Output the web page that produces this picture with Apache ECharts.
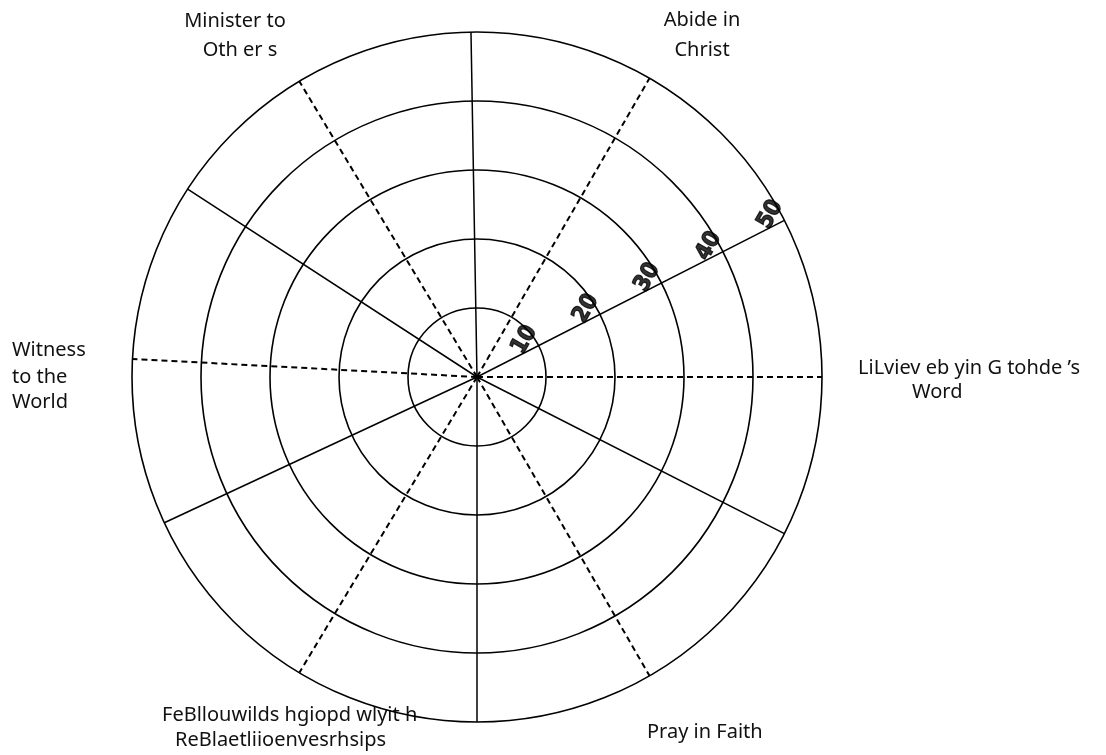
<!DOCTYPE html>
<html>
<head>
<meta charset="utf-8">
<script src="https://cdn.jsdelivr.net/npm/echarts@6/dist/echarts.min.js"></script>
<style>
  html, body { margin: 0; padding: 0; background: #fff; }
  #chart { width: 1106px; height: 755px; }
</style>
</head>
<body>
<div id="chart"></div>
<script>
// ring values along the radius (0..50)
const ringTicks = [10, 20, 30, 40, 50]
// spoke directions, degrees counter-clockwise from 3 o'clock
const solidSpokes = [27, 91, 147, 205, 270, 333]
const dashedSpokes = [0, 60, 121, 177, 239, 300]
// the scale is written along this spoke
const scaleSpoke = 27

// outer labels, as they appear in the picture
const labelLines = [
  { text: 'Minister to', x: 235, y: 21, align: 'center' },
  { text: 'Oth er s', x: 240, y: 50, align: 'center' },
  { text: 'Abide in', x: 702, y: 20, align: 'center' },
  { text: 'Christ', x: 702, y: 50, align: 'center' },
  { text: 'Witness', x: 12, y: 350, align: 'left' },
  { text: 'to the', x: 12, y: 377, align: 'left' },
  { text: 'World', x: 12, y: 402, align: 'left' },
  { text: 'LiLviev eb yin G tohde \u2019s', x: 858, y: 368, align: 'left' },
  { text: 'Word', x: 912, y: 392, align: 'left' },
  { text: 'FeBllouwilds hgiopd wlyit h', x: 162, y: 715, align: 'left' },
  { text: 'ReBlaetliioenvesrhsips', x: 175, y: 740, align: 'left' },
  { text: 'Pray in Faith', x: 647, y: 732, align: 'left' }
]

const spokeSeries = (angles, dashed) => angles.map(a => ({
  type: 'line',
  coordinateSystem: 'polar',
  data: [[0, a], [50, a]],
  symbol: 'none',
  silent: true,
  animation: false,
  lineStyle: {
    color: '#000',
    width: dashed ? 2 : 1.5,
    type: dashed ? [6, 4] : 'solid'
  }
}))

const chart = echarts.init(document.getElementById('chart'))
chart.setOption({
  backgroundColor: '#fff',
  animation: false,
  polar: { center: [477, 377], radius: 345 },
  angleAxis: {
    type: 'value',
    min: 0,
    max: 360,
    startAngle: 0,
    clockwise: false,
    axisLine: { show: false },
    axisTick: { show: false },
    axisLabel: { show: false },
    splitLine: { show: false }
  },
  radiusAxis: {
    type: 'value',
    min: 0,
    max: 50,
    interval: 10,
    axisLine: { show: false },
    axisTick: { show: false },
    axisLabel: { show: false },
    splitLine: { show: true, lineStyle: { color: '#000', width: 1.6 } }
  },
  series: [
    ...spokeSeries(solidSpokes, false),
    ...spokeSeries(dashedSpokes, true),
    {
      type: 'scatter',
      coordinateSystem: 'polar',
      symbolSize: 0,
      silent: true,
      data: ringTicks.map(v => [v, scaleSpoke]),
      label: {
        show: true,
        position: 'inside',
        // offset is in the label's rotated frame
        offset: [-2, -15],
        rotate: 60,
        formatter: p => String(p.value[0]),
        color: '#000',
        textBorderColor: '#000',
        textBorderWidth: 1.2,
        fontSize: 23,
        fontWeight: 'bold',
        fontFamily: "'DejaVu Sans Condensed', 'Liberation Sans Narrow', sans-serif"
      }
    }
  ],
  graphic: labelLines.map(l => ({
    type: 'text',
    x: l.x,
    y: l.y,
    silent: true,
    style: {
      text: l.text,
      fill: '#111',
      font: "20px 'Noto Sans', sans-serif",
      textAlign: l.align,
      textVerticalAlign: 'middle'
    }
  }))
})
</script>
</body>
</html>
